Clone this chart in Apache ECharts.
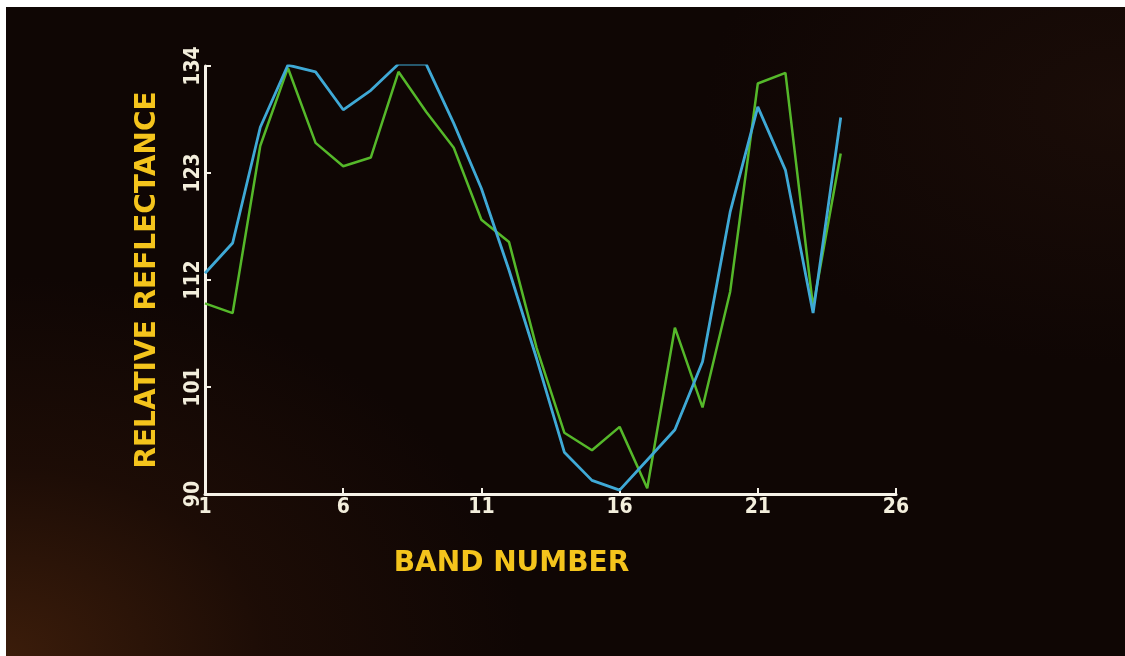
<!DOCTYPE html>
<html>
<head>
<meta charset="utf-8">
<script src="https://cdn.jsdelivr.net/npm/echarts@6/dist/echarts.min.js"></script>
<style>
  html, body { margin: 0; padding: 0; background: #ffffff; width: 1125px; height: 656px; overflow: hidden; }
  #chart {
    position: absolute; left: 6px; top: 7px; width: 1119px; height: 649px;
    background:
      radial-gradient(ellipse 520px 380px at 0% 100%, rgba(70,34,12,0.80), rgba(45,20,8,0.45) 50%, rgba(0,0,0,0) 100%),
      radial-gradient(ellipse 420px 260px at 100% 15%, rgba(40,20,12,0.45), rgba(0,0,0,0) 100%),
      #0f0604;
  }
</style>
</head>
<body>
<div id="chart"></div>
<script>
const bands = [1,2,3,4,5,6,7,8,9,10,11,12,13,14,15,16,17,18,19,20,21,22,23,24];
const greenSeries = [109.6,108.6,125.8,133.8,126.1,123.7,124.6,133.4,129.3,125.6,118.2,115.9,105.0,96.3,94.5,96.9,90.6,107.1,98.9,110.8,132.2,133.3,109.2,125.0];
const blueSeries = [112.7,115.8,127.7,134.1,133.4,129.5,131.5,134.2,134.2,128.1,121.4,113.0,103.9,94.3,91.4,90.4,93.5,96.6,103.6,119.0,129.8,123.3,108.6,128.7];
const xTicks = [1,6,11,16,21,26];
const yTicks = [90,101,112,123,134];
const xTitle = 'BAND NUMBER';
const yTitle = 'RELATIVE REFLECTANCE';

const chart = echarts.init(document.getElementById('chart'), null, { renderer: 'canvas' });

const axisColor = '#f6f2e8';
const labelFont = { color: '#f3eedc', fontFamily: '"DejaVu Sans Condensed", "Liberation Sans Narrow", sans-serif', fontWeight: 'bold', fontSize: 21 };
const titleFont = { color: '#f4c41c', fontFamily: '"DejaVu Sans", sans-serif', fontWeight: 'bold', fontSize: 28 };

chart.setOption({
  backgroundColor: 'transparent',
  animation: false,
  grid: { left: 199, right: 229, top: 59, bottom: 162, containLabel: false },
  xAxis: {
    type: 'value',
    min: xTicks[0], max: xTicks[xTicks.length - 1], interval: 5,
    name: xTitle, nameLocation: 'middle', nameGap: 56,
    nameTextStyle: Object.assign({ padding: [0, 78, 0, 0] }, titleFont),
    axisLine: { show: true, lineStyle: { color: axisColor, width: 3 } },
    axisTick: { show: true, inside: true, length: 6, lineStyle: { color: axisColor, width: 2 } },
    axisLabel: Object.assign({ margin: 3 }, labelFont),
    splitLine: { show: false }
  },
  yAxis: {
    type: 'value',
    min: yTicks[0], max: yTicks[yTicks.length - 1], interval: 11,
    name: yTitle, nameLocation: 'middle', nameGap: 43, nameRotate: 90,
    nameTextStyle: titleFont,
    axisLine: { show: true, lineStyle: { color: axisColor, width: 3 } },
    axisTick: { show: true, inside: true, length: 6, lineStyle: { color: axisColor, width: 2 } },
    axisLabel: Object.assign({ margin: 1, rotate: 90 }, labelFont),
    splitLine: { show: false }
  },
  series: [
    {
      type: 'line', name: 'green', showSymbol: false, smooth: false,
      lineStyle: { color: '#55b82a', width: 2.5 },
      data: bands.map((b, i) => [b, greenSeries[i]]),
      z: 2
    },
    {
      type: 'line', name: 'blue', showSymbol: false, smooth: false,
      lineStyle: { color: '#3fa9d6', width: 2.8 },
      data: bands.map((b, i) => [b, blueSeries[i]]),
      z: 3
    }
  ]
});
</script>
</body>
</html>
